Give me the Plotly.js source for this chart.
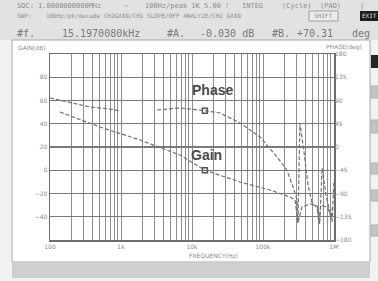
<!DOCTYPE html>
<html><head><meta charset="utf-8">
<script src="https://cdn.plot.ly/plotly-3.0.1.min.js"></script>
<style>html,body{margin:0;padding:0;background:#f2f2f2}#c{width:378px;height:281px}</style>
</head><body><div id="c"></div>
<script>
// ---- data ----
const gainFreq = [138, 506, 1853, 6780, 15197, 47400, 125600, 240000, 283000, 311000, 353000, 460000, 580000, 610000, 655000, 820000, 910000, 960000];
const gainDb   = [50.1, 37.2, 26.0, 13.1, -0.03, -10.1, -17, -23, -25.6, -45.3, -31.6, -29, -30.7, -44.5, -29.9, -32.4, -41, -30];
const phaseFreq = [100, 174, 366, 700, 967, 1800, 3222, 6780, 15197, 24900, 47400, 91000, 157000, 217000, 265000, 302000, 311000, 331000, 375000, 430000, 490000, 580000, 630000, 680000, 770000, 880000, 940000, 1000000];
const phaseDeg  = [94.9, 87.1, 77.4, 73.6, 69.7, null, 71.6, 75.5, 70.31, 65.8, 46.5, 19.4, -19.3, -44.5, -77.4, -102.5, -147, 46.5, -5.8, -73.5, -108, -118, -149, -40.6, -92.8, -125.7, -145, -63.8];
const markerFreq = [15197];
const markerGain = [-0.03];
const markerPhase = [70.31];
const decadeVals = [100, 1000, 10000, 100000, 1000000];
const decadeText = ['100', '1k', '10k', '100k', '1M'];
const gainTicks = [-40, -20, 0, 20, 40, 60, 80];
const phaseTicks = [-180, -135, -90, -45, 0, 45, 90, 135, 180];

// build log grid tick list
const xv = [], xt = [];
for (let d = 2; d <= 6; d++) {
  for (let m = 1; m <= 9; m++) {
    const v = m * Math.pow(10, d);
    if (v > 1e6) break;
    xv.push(v);
    const i = decadeVals.indexOf(v);
    xt.push(i >= 0 ? decadeText[i] : '');
  }
}

// pixel helpers (plot area 50..334 x, 54..240 y)
const L = 50, R = 334, T = 54, B = 240;
const px = x => (x - L) / (R - L);
const py = y => (B - y) / (B - T);

const lineCol = '#727272';
const traces = [
  {x: gainFreq, y: gainDb, type: 'scatter', mode: 'lines', line: {color: lineCol, width: 1.2, dash: '4px,2px'}, yaxis: 'y', connectgaps: false, hoverinfo: 'skip'},
  {x: phaseFreq, y: phaseDeg, type: 'scatter', mode: 'lines', line: {color: lineCol, width: 1.2, dash: '4px,2px'}, yaxis: 'y2', connectgaps: false, hoverinfo: 'skip'},
  {x: markerFreq, y: markerGain, type: 'scatter', mode: 'markers', marker: {symbol: 'square-open', size: 5, color: '#555', line: {width: 1.5, color: '#555'}}, yaxis: 'y'},
  {x: markerFreq, y: markerPhase, type: 'scatter', mode: 'markers', marker: {symbol: 'square-open', size: 5, color: '#555', line: {width: 1.5, color: '#555'}}, yaxis: 'y2'}
];

const tf = {family: 'DejaVu Sans, sans-serif', size: 6, color: '#8a8a8a'};
const mono = {family: 'DejaVu Sans Mono, monospace', size: 7, color: '#8c8c8c'};
const big = {family: 'DejaVu Sans Mono, monospace', size: 10, color: '#7a7a7a'};

function ann(text, x, y, font, xanchor) {
  return {text: text, xref: 'paper', yref: 'paper', x: px(x), y: py(y), showarrow: false, font: font, xanchor: xanchor || 'left', yanchor: 'middle'};
}

const annotations = [
  ann('SDC: 1.0000000000MHz', 15, 6, mono),
  ann('~', 122, 6, mono),
  ann('100Hz/peak 1K 5.00 !', 143, 6, mono),
  ann('INTEG', 240, 6, mono),
  ann('(Cycle)', 280, 6, mono),
  ann('(PAD)', 318, 6, mono),
  ann('|', 358, 6, mono),
  ann('SWP:    100Hz/pk/decade CH2GAIN/CH1 SLOPE/OFF ANALYZE/CH2 GAIN', 15, 16, {family: mono.family, size: 6, color: '#8c8c8c'}),
  ann('SHIFT', 312, 16, {family: mono.family, size: 6, color: '#8c8c8c'}),
  ann('EXIT', 369, 16, {family: mono.family, size: 6, color: '#dddddd'}, 'center'),
  ann('#f.', 15, 33, big),
  ann('15.1970080kHz', 60, 33, big),
  ann('#A.', 165, 33, big),
  ann('-0.030 dB', 198, 33, big),
  ann('#B.', 270, 33, big),
  ann('+70.31', 295, 33, big),
  ann('deg', 350, 33, big),
  ann('GAIN(dB)', 16, 47, tf),
  ann('PHASE(deg)', 364, 47, tf, 'right'),
  ann('FREQUENCY(Hz)', 213, 255, tf, 'center'),
  ann('<b>Phase</b>', 212, 90, {family: 'Liberation Sans, Arial, sans-serif', size: 14, color: '#4a4a4a'}, 'center'),
  ann('<b>Gain</b>', 206, 155, {family: 'Liberation Sans, Arial, sans-serif', size: 14, color: '#4a4a4a'}, 'center')
];

function rect(x0, y0, x1, y1, fill, lineColor, layer) {
  return {type: 'rect', xref: 'paper', yref: 'paper', x0: px(x0), x1: px(x1), y0: py(y1), y1: py(y0),
    fillcolor: fill, line: {color: lineColor || fill, width: lineColor ? 1 : 0}, layer: layer || 'below'};
}

const shapes = [
  rect(0, 0, 378, 40, '#e2e2e2'),
  rect(12, 263, 370, 278, '#cfcfcf'),
  rect(12, 40, 370, 262, '#ffffff', '#a8a8a8'),
  rect(360, 11, 378, 21, '#1e1e1e'),
  rect(309, 11, 338, 21, '#ececec', '#a0a0a0'),
  rect(371, 55, 378, 68, '#262626'),
  rect(371, 86, 378, 98, '#c4c4c4', '#b0b0b0'),
  rect(371, 120, 378, 133, '#c4c4c4', '#b0b0b0'),
  rect(371, 163, 378, 174, '#c4c4c4', '#b0b0b0'),
  rect(371, 190, 378, 201, '#c4c4c4', '#b0b0b0'),
  rect(371, 225, 378, 236, '#c4c4c4', '#b0b0b0')
];

const layout = {
  width: 378, height: 281,
  margin: {l: L, r: 378 - R, t: T, b: 281 - B, pad: 0},
  paper_bgcolor: '#f2f2f2', plot_bgcolor: '#ffffff',
  showlegend: false,
  xaxis: {type: 'log', range: [2, 6], tickmode: 'array', tickvals: xv, ticktext: xt,
    showgrid: true, gridcolor: '#8e8e8e', gridwidth: 1, zeroline: false,
    showline: true, mirror: true, linecolor: '#6e6e6e', linewidth: 1.5, ticks: '', tickfont: tf},
  yaxis: {range: [-60, 100], tickmode: 'array', tickvals: gainTicks, showgrid: true, gridcolor: '#7a7a7a', gridwidth: 1.3,
    zeroline: false, showline: true, mirror: true, linecolor: '#6e6e6e', linewidth: 1.5, ticks: '', tickfont: tf},
  yaxis2: {range: [-180, 180], overlaying: 'y', side: 'right', tickmode: 'array', tickvals: phaseTicks, showgrid: false,
    zeroline: false, showline: false, ticks: '', tickfont: tf},
  annotations: annotations,
  shapes: shapes
};

Plotly.newPlot('c', traces, layout, {staticPlot: true, displayModeBar: false});
</script>
</body></html>
